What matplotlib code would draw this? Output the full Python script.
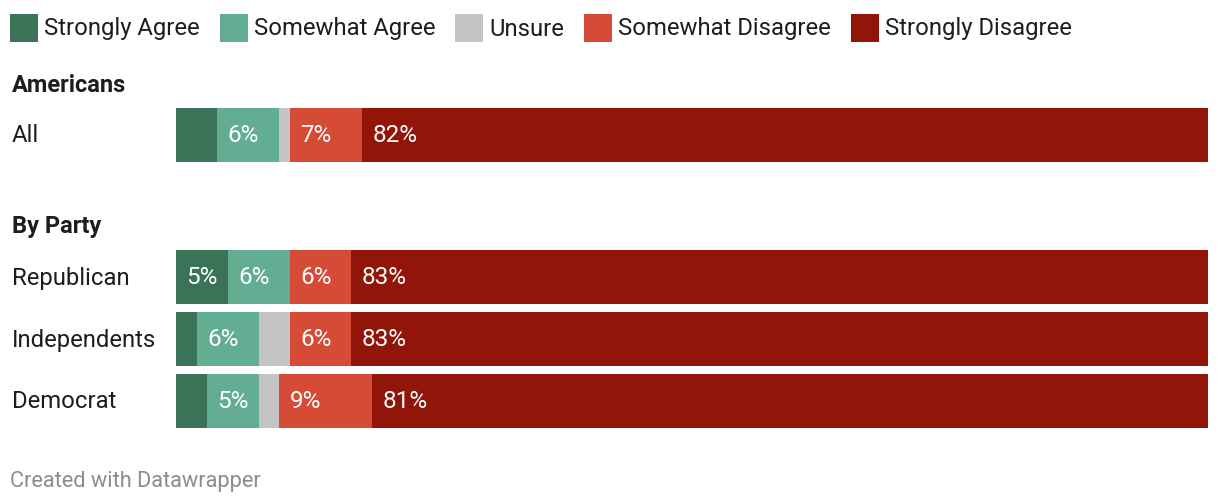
import matplotlib.pyplot as plt

plt.rcParams['font.family'] = ['Roboto', 'DejaVu Sans']

categories = ["Strongly Agree", "Somewhat Agree", "Unsure", "Somewhat Disagree", "Strongly Disagree"]
colors = ["#3a7357", "#63ae92", "#c4c4c4", "#d64b35", "#92150a"]

groups = ["All", "Republican", "Independents", "Democrat"]
strongly_agree = [4, 5, 2, 3]
somewhat_agree = [6, 6, 6, 5]
unsure = [1, 0, 3, 2]
somewhat_disagree = [7, 6, 6, 9]
strongly_disagree = [82, 83, 83, 81]

# layout (pixel rows), headings
row_y = [135, 277, 339, 401]
headings = [("Americans", 85), ("By Party", 227)]

W, H = 1220, 504
fig = plt.figure(figsize=(W / 100, H / 100), dpi=100)
ax = fig.add_axes([176 / W, 0, 1032 / W, 1])
ax.set_xlim(0, 100)
ax.set_ylim(H, 0)
ax.axis("off")

series = [strongly_agree, somewhat_agree, unsure, somewhat_disagree, strongly_disagree]
left = [0] * len(groups)
for vals, col in zip(series, colors):
    ax.barh(row_y, vals, left=left, height=54, color=col, linewidth=0)
    for i, v in enumerate(vals):
        if v >= 5:
            ax.annotate(f"{v}%", (left[i], row_y[i] + 1), xytext=(7.5, 0), textcoords="offset points",
                        va="center", ha="left", color="white", fontsize=17.5)
    left = [l + v for l, v in zip(left, vals)]

# row labels and headings
for g, y in zip(groups, row_y):
    fig.text(12 / W, 1 - (y + 1) / H, g, va="center", ha="left", fontsize=17.2, color="#1d1d1d")
for h, y in headings:
    fig.text(12 / W, 1 - y / H, h, va="center", ha="left", fontsize=17, fontweight="bold", color="#1d1d1d")

# legend
fig.canvas.draw()
r = fig.canvas.get_renderer()
x = 10
for cat, col in zip(categories, colors):
    fig.patches.append(plt.Rectangle((x / W, 1 - 42 / H), 28 / W, 28 / H, transform=fig.transFigure,
                                     color=col, linewidth=0))
    t = fig.text((x + 34) / W, 1 - 29 / H, cat, va="center", ha="left", fontsize=17.2, color="#1d1d1d")
    bb = t.get_window_extent(renderer=r)
    x = x + 34 + bb.width + 20

fig.text(10 / W, 1 - 482 / H, "Created with Datawrapper", va="center", ha="left", fontsize=15.7, color="#8c8c8c")

fig.savefig("out.png", dpi=100, facecolor="white")
